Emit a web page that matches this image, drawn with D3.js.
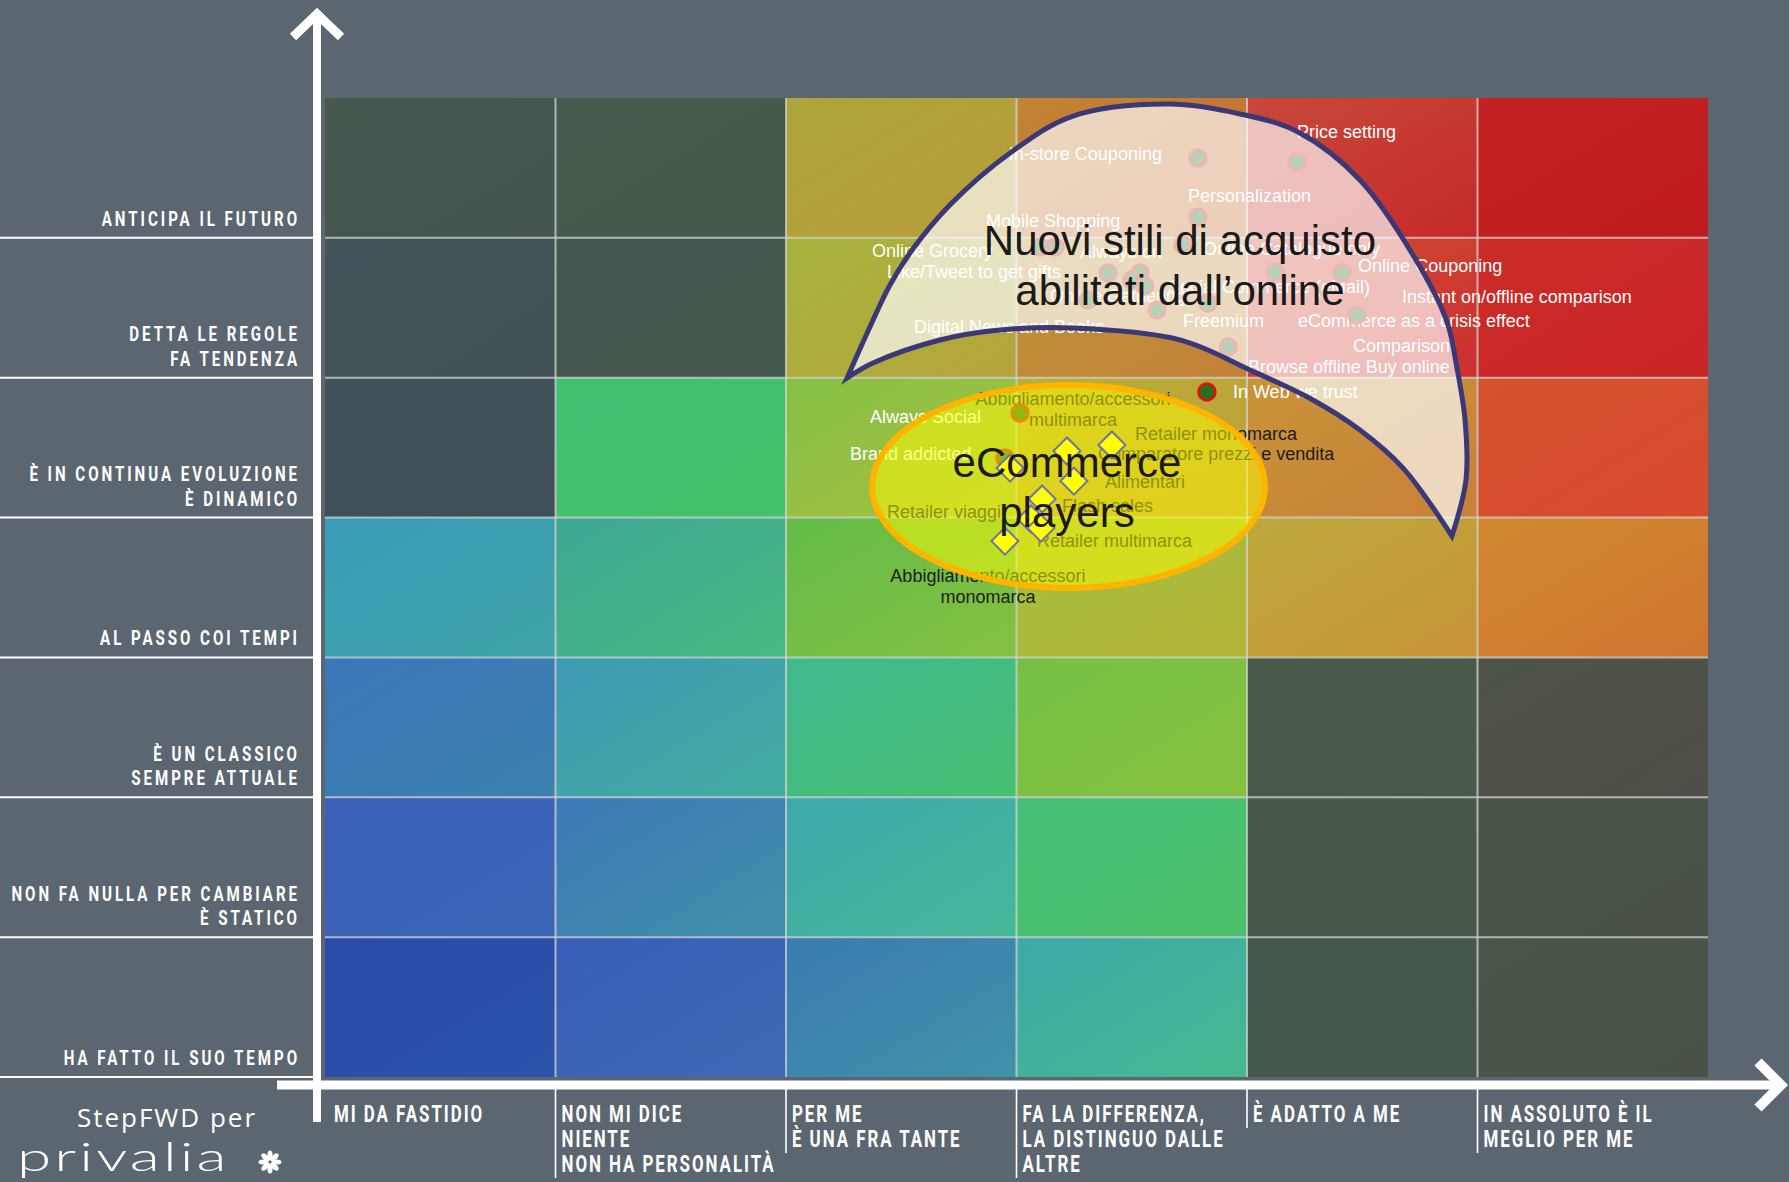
<!DOCTYPE html>
<html><head><meta charset="utf-8">
<script src="https://cdn.jsdelivr.net/npm/d3@7"></script>
<style>
html,body{margin:0;padding:0;background:#5c6670;}
svg{display:block;}
</style></head><body>
<svg id="chart" width="1789" height="1182"></svg>
<script>
// ---------- DATA ----------
// Y axis categories, top -> bottom
const yCategories = [
  ["ANTICIPA IL FUTURO"],
  ["DETTA LE REGOLE", "FA TENDENZA"],
  ["È IN CONTINUA EVOLUZIONE", "È DINAMICO"],
  ["AL PASSO COI TEMPI"],
  ["È UN CLASSICO", "SEMPRE ATTUALE"],
  ["NON FA NULLA PER CAMBIARE", "È STATICO"],
  ["HA FATTO IL SUO TEMPO"]
];
// X axis categories, left -> right
const xCategories = [
  ["MI DA FASTIDIO"],
  ["NON MI DICE", "NIENTE", "NON HA PERSONALITÀ"],
  ["PER ME", "È UNA FRA TANTE"],
  ["FA LA DIFFERENZA,", "LA DISTINGUO DALLE", "ALTRE"],
  ["È ADATTO A ME"],
  ["IN ASSOLUTO È IL", "MEGLIO PER ME"]
];
// Trend points (x in column units 0-6, y in row units 0-7 from bottom); label anchor in same units
const trendNames  = ["In-store Couponing","Price setting","Personalization","Mobile Shopping","Online Grocery","Like/Tweet to get gifts","Always on","Online Catalogue only","Social Commerce (eMail)","Online Gathering","Freemium","Digital News and Books","Online Couponing","Instant on/offline comparison","eCommerce as a crisis effect","Comparison","Browse offline Buy online","In Web we trust"];
const trendX      = [3.787,4.217,3.787,3.167,3.102,3.397,3.536,3.722,4.121,3.501,3.610,3.310,4.412,4.477,3.831,3.557,3.918,3.826];
const trendY      = [6.571,6.542,6.149,5.934,5.934,5.749,5.749,5.949,5.756,5.699,5.484,5.556,5.749,5.448,5.534,5.656,5.220,4.898];
const trendLabelX = [3.631,4.217,3.744,2.868,2.373,2.438,3.275,3.809,4.534,3.145,3.722,2.555,4.482,4.672,4.221,4.460,4.004,3.939];
const trendLabelY = [6.557,6.714,6.256,6.077,5.863,5.713,5.856,5.877,5.606,5.541,5.363,5.320,5.756,5.534,5.363,5.184,5.034,4.855];
const trendLabelAnchor = ["end","start","start","start","start","start","start","start","end","start","start","start","start","start","start","start","start","start"];

// Consumer attitude points inside the eCommerce area
const socialNames = ["Always Social","Brand addicted"];
const socialX = [3.015,2.950];
const socialY = [4.748,4.426];
const socialLabelX = [2.364,2.278];
const socialLabelY = [4.676,4.412];

// eCommerce players (diamonds)
const playerNames = ["Comparatore prezzi e vendita","Retailer monomarca","Alimentari","Flash sales","Retailer viaggi","Retailer multimarca","Abbigliamento/accessori\nmultimarca","Abbigliamento/accessori\nmonomarca"];
const playerX = [3.219,3.414,3.249,3.111,2.972,3.063,3.106,2.950];
const playerY = [4.476,4.519,4.261,4.133,4.354,3.990,3.925,3.832];
const playerLabelX = [3.354,3.514,3.384,3.197,2.438,3.089,3.245,2.876];
const playerLabelY = [4.412,4.555,4.211,4.040,3.997,3.790,4.805,3.539];
const playerLabelAnchor = ["start","start","start","start","start","start","middle","middle"];

// Area outlines (data units)
const crescentOuter = [[2.265,4.998],[2.364,5.363],[2.451,5.663],[2.547,5.913],[2.711,6.235],[2.972,6.607],[3.245,6.871],[3.666,6.957],[3.970,6.886],[4.221,6.757],[4.490,6.414],[4.751,5.792],[4.868,5.398],[4.911,5.069],[4.946,4.698],[4.950,4.269],[4.889,3.868]];
const crescentInner = [[4.889,3.868],[4.677,4.354],[4.490,4.626],[4.286,4.841],[4.013,5.055],[3.709,5.270],[3.245,5.355],[2.928,5.341],[2.668,5.270],[2.377,5.105],[2.265,4.998]];
const crescentTitle = ["Nuovi stili di acquisto","abilitati dall’online"];
const crescentTitlePos = [3.709, 5.878];
const ellipseCenter = [3.226, 4.222];
const ellipseRadii = [0.8525, 0.7257];
const ellipseTitle = ["eCommerce","players"];
const ellipseTitlePos = [3.219, 4.290];

// ---------- STYLE ----------
// cell colours (rows top->bottom, columns left->right): [top-left, bottom-right]
const cellPalette = [
  [["#45594f","#44564f"],["#465a4d","#465a4b"],["#aca63a","#b99c38"],["#c28436","#c86a30"],["#c8483a","#c42a28"],["#c42222","#c01c1e"]],
  [["#43555a","#425356"],["#455950","#44584e"],["#a6b43c","#b6a43a"],["#bc9638","#c48038"],["#d04c30","#cc3030"],["#cc2c28","#c82424"]],
  [["#40525a","#3f4f58"],["#40c070","#44c26a"],["#86c046","#a8c040"],["#b8b038","#c09c38"],["#c89438","#c88038"],["#d4522e","#d84a2c"]],
  [["#3a9cb8","#40a4a8"],["#3ea894","#48b880"],["#64bc4a","#84c040"],["#a4c03e","#b4b438"],["#bca83a","#c89438"],["#d08a30","#d07430"]],
  [["#3a76b8","#3c82b0"],["#3e9ab4","#44aca0"],["#40b890","#46c070"],["#74c044","#86c040"],["#4a5a4c","#48584b"],["#4e5448","#504e48"]],
  [["#3c60b8","#3c66b8"],["#3c7ab8","#4090a8"],["#3ea8ac","#44b898"],["#46c078","#4cc068"],["#48594c","#47584b"],["#4a5448","#4a5248"]],
  [["#2a4ca8","#2c52aa"],["#3a5eb8","#3e6ab4"],["#3a7cb2","#4092a8"],["#3ea8a8","#48b890"],["#46584c","#45584b"],["#4a5649","#4a5248"]]
];

const W = 1789, H = 1182;
const svg = d3.select("#chart");
const defs = svg.append("defs");
const x = d3.scaleLinear().domain([0, 6]).range([325, 1708]);
const y = d3.scaleLinear().domain([0, 7]).range([1077, 98]);
const nRows = yCategories.length, nCols = xCategories.length;
const LABEL_FONT = "'Liberation Sans', Arial, Helvetica, sans-serif";
const AXIS_FONT = "Roboto, 'Liberation Sans', sans-serif";

svg.append("rect").attr("width", W).attr("height", H).attr("fill", "#5c6670");

// ---------- heatmap cells ----------
const cells = [];
yCategories.forEach((_, r) => xCategories.forEach((__, c) => cells.push({ r, c })));
cells.forEach(d => {
  const g = defs.append("linearGradient").attr("id", `cg${d.r}_${d.c}`)
    .attr("x1", 0).attr("y1", 0).attr("x2", 1).attr("y2", 1);
  g.append("stop").attr("offset", 0).attr("stop-color", cellPalette[d.r][d.c][0]);
  g.append("stop").attr("offset", 1).attr("stop-color", cellPalette[d.r][d.c][1]);
});
svg.append("g").selectAll("rect").data(cells).join("rect")
  .attr("x", d => x(d.c))
  .attr("y", d => y(nRows - d.r))
  .attr("width", d => x(d.c + 1) - x(d.c))
  .attr("height", d => y(nRows - 1 - d.r) - y(nRows - d.r))
  .attr("fill", d => `url(#cg${d.r}_${d.c})`);

// grid lines
const grid = svg.append("g").attr("stroke", "#d4d4d4").attr("stroke-opacity", 0.75).attr("stroke-width", 2);
grid.selectAll("line.v").data(d3.range(1, nCols)).join("line").attr("class", "v")
  .attr("x1", d => x(d)).attr("x2", d => x(d)).attr("y1", y(nRows)).attr("y2", y(0));
grid.selectAll("line.h").data(d3.range(1, nRows)).join("line").attr("class", "h")
  .attr("x1", x(0)).attr("x2", x(nCols)).attr("y1", d => y(d)).attr("y2", d => y(d));

// ---------- left row lines & labels ----------
const axisX = 317;
svg.append("g").selectAll("line").data(d3.range(0, nRows)).join("line")
  .attr("x1", 0).attr("x2", axisX).attr("y1", d => y(d)).attr("y2", d => y(d))
  .attr("stroke", "#ffffff").attr("stroke-width", 2);

const rowLab = svg.append("g").attr("fill", "#ffffff").attr("font-family", AXIS_FONT)
  .attr("font-weight", 700).attr("font-size", 21).attr("letter-spacing", 4.1);
yCategories.forEach((lines, r) => {
  const bottom = y(nRows - 1 - r);
  lines.forEach((t, i) => {
    const by = bottom - 12 - (lines.length - 1 - i) * 24.6;
    rowLab.append("text").attr("text-anchor", "end")
      .attr("transform", `translate(${300},${by}) scale(0.72,1)`).text(t);
  });
});

// ---------- bottom labels ----------
const colLab = svg.append("g").attr("fill", "#ffffff").attr("font-family", AXIS_FONT)
  .attr("font-weight", 700).attr("font-size", 23.5).attr("letter-spacing", 2.7);
xCategories.forEach((lines, c) => {
  const left = c === 0 ? 334 : x(c) + 6;
  lines.forEach((t, i) => {
    colLab.append("text").attr("transform", `translate(${left},${1122 + i * 25}) scale(0.72,1)`).text(t);
  });
  if (c > 0) {
    svg.append("line").attr("x1", x(c)).attr("x2", x(c)).attr("y1", 1088)
      .attr("y2", 1128 + (lines.length - 1) * 25)
      .attr("stroke", "#ffffff").attr("stroke-width", 1.6);
  }
});

// ---------- axes ----------
const axes = svg.append("g").attr("stroke", "#ffffff").attr("fill", "none");
axes.append("line").attr("x1", axisX).attr("x2", axisX).attr("y1", 14).attr("y2", 1122).attr("stroke-width", 8);
axes.append("polyline").attr("points", `${axisX - 24},37 ${axisX},14 ${axisX + 24},37`)
  .attr("stroke-width", 9).attr("stroke-linejoin", "miter").attr("stroke-miterlimit", 10);
axes.append("line").attr("x1", 277).attr("x2", 1780).attr("y1", 1085).attr("y2", 1085).attr("stroke-width", 9);
axes.append("polyline").attr("points", `1758,1062 1781,1085 1758,1108`)
  .attr("stroke-width", 10).attr("stroke-linejoin", "miter").attr("stroke-miterlimit", 10);

// ---------- trend points (beneath the crescent overlay) ----------
const trends = trendNames.map((n, i) => ({ name: n, x: trendX[i], y: trendY[i], lx: trendLabelX[i], ly: trendLabelY[i], anchor: trendLabelAnchor[i] }));
const socials = socialNames.map((n, i) => ({ name: n, x: socialX[i], y: socialY[i], lx: socialLabelX[i], ly: socialLabelY[i], anchor: "start" }));
const players = playerNames.map((n, i) => ({ name: n, x: playerX[i], y: playerY[i], lx: playerLabelX[i], ly: playerLabelY[i], anchor: playerLabelAnchor[i] }));

const ptLayer = svg.append("g");
ptLayer.selectAll("text.tl").data(trends.concat(socials)).join("text").attr("class", "tl")
  .attr("x", d => x(d.lx)).attr("y", d => y(d.ly)).attr("text-anchor", d => d.anchor)
  .attr("font-family", LABEL_FONT).attr("font-size", 18).attr("fill", "#ffffff").text(d => d.name);
ptLayer.selectAll("text.pl").data(players).join("text").attr("class", "pl")
  .attr("text-anchor", d => d.anchor)
  .attr("font-family", LABEL_FONT).attr("font-size", 18).attr("fill", "#1c1c1c")
  .each(function (d) {
    const lines = d.name.split("\n");
    d3.select(this).selectAll("tspan").data(lines).join("tspan")
      .attr("x", x(d.lx)).attr("y", (t, i) => y(d.ly) + i * 21).text(t => t);
  });
ptLayer.selectAll("circle").data(trends.concat(socials)).join("circle")
  .attr("cx", d => x(d.x)).attr("cy", d => y(d.y)).attr("r", 8.5)
  .attr("fill", "#2b6e20").attr("stroke", "#e41010").attr("stroke-width", 2.5);

// ---------- crescent ----------
const lineGen = d3.line().x(d => x(d[0])).y(d => y(d[1])).curve(d3.curveCatmullRom.alpha(0.5));
const crescentD = lineGen(crescentOuter) + lineGen(crescentInner).replace(/^M/, "L") + "Z";
svg.append("path").attr("d", crescentD).attr("fill", "#ffffff").attr("fill-opacity", 0.68)
  .attr("stroke", "none");
svg.append("path").attr("d", crescentD).attr("fill", "none")
  .attr("stroke", "#3a3876").attr("stroke-width", 5).attr("stroke-linejoin", "miter").attr("stroke-miterlimit", 20);

// ---------- ellipse ----------
svg.append("ellipse")
  .attr("cx", x(ellipseCenter[0])).attr("cy", y(ellipseCenter[1]))
  .attr("rx", x(ellipseRadii[0]) - x(0)).attr("ry", y(0) - y(ellipseRadii[1]))
  .attr("fill", "#ffff00").attr("fill-opacity", 0.5)
  .attr("stroke", "#ffb400").attr("stroke-width", 6);

// diamonds
svg.append("g").selectAll("path").data(players).join("path")
  .attr("d", d3.symbol().type(d3.symbolSquare).size(365)())
  .attr("transform", d => `translate(${x(d.x)},${y(d.y)}) rotate(45)`)
  .attr("fill", "#ffff00").attr("stroke", "#6e72b0").attr("stroke-width", 2);

// ---------- area titles ----------
const titles = svg.append("g").attr("font-family", LABEL_FONT).attr("fill", "#1a1a1a").attr("text-anchor", "middle");
crescentTitle.forEach((t, i) => titles.append("text").attr("x", x(crescentTitlePos[0]))
  .attr("y", y(crescentTitlePos[1]) + i * 50).attr("font-size", 42).text(t));
ellipseTitle.forEach((t, i) => titles.append("text").attr("x", x(ellipseTitlePos[0]))
  .attr("y", y(ellipseTitlePos[1]) + i * 50).attr("font-size", 42).text(t));

// ---------- logo ----------
svg.append("text").attr("x", 167).attr("y", 1127).attr("text-anchor", "middle")
  .attr("font-family", "'Open Sans', sans-serif").attr("font-size", 26).attr("letter-spacing", 2)
  .attr("fill", "#ffffff").text("StepFWD per");
svg.append("text").attr("transform", "translate(17,1171) scale(1.55,1)")
  .attr("font-family", "Lato, sans-serif").attr("font-weight", 300).attr("font-size", 40).attr("letter-spacing", 2)
  .attr("fill", "#ffffff").text("privalia");
const flower = svg.append("g").attr("transform", "translate(270,1162)");
flower.selectAll("ellipse").data(d3.range(8)).join("ellipse")
  .attr("cx", 0).attr("cy", -6.5).attr("rx", 2.6).attr("ry", 5)
  .attr("transform", d => `rotate(${d * 45})`).attr("fill", "#ffffff");
</script>
</body></html>
